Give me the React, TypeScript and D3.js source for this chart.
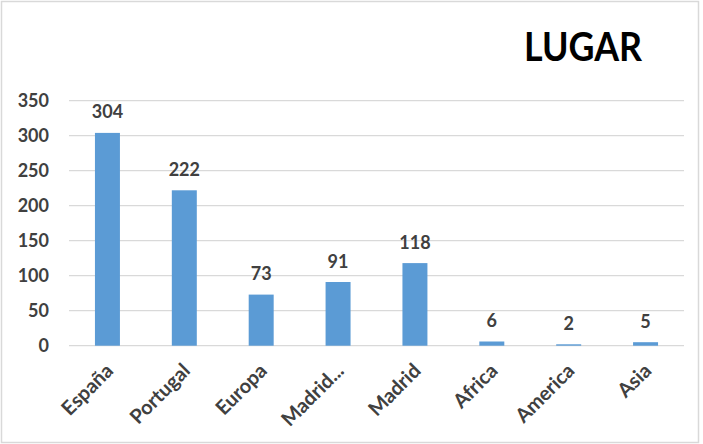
import React, { useRef, useEffect } from 'react';
import * as d3 from 'd3';

const categories = ['España', 'Portugal', 'Europa', 'Madrid...', 'Madrid', 'Africa', 'America', 'Asia'];
const values = [304, 222, 73, 91, 118, 6, 2, 5];
const yTicks = [0, 50, 100, 150, 200, 250, 300, 350];
const title = 'LUGAR';

const App: React.FC = () => {
  const svgRef = useRef<SVGSVGElement>(null);

  useEffect(() => {
    const svg = d3.select(svgRef.current);
    svg.selectAll('*').remove();

    const font = 'Lato, "Open Sans", sans-serif';
    const textColor = '#404040';
    const fontSize = 18;

    // chart border
    svg.append('rect')
      .attr('x', 1.5).attr('y', 1.5)
      .attr('width', 697).attr('height', 441)
      .attr('fill', '#fff')
      .attr('stroke', '#d9d9d9')
      .attr('stroke-width', 1.5);

    const x = d3.scaleBand()
      .domain(categories)
      .range([69, 684])
      .paddingInner(0.675)
      .paddingOuter(0.3375);

    const y = d3.scaleLinear()
      .domain([0, 350])
      .range([345.7, 100.7]);

    // gridlines
    svg.append('g')
      .selectAll('line')
      .data(yTicks)
      .join('line')
      .attr('x1', 69)
      .attr('x2', 684)
      .attr('y1', d => y(d))
      .attr('y2', d => y(d))
      .attr('stroke', '#d9d9d9')
      .attr('stroke-width', 1.3);

    // y tick labels
    svg.append('g')
      .selectAll('text')
      .data(yTicks)
      .join('text')
      .attr('x', 49)
      .attr('y', d => y(d))
      .attr('dy', '0.36em')
      .attr('text-anchor', 'end')
      .attr('font-family', font)
      .attr('font-weight', 'bold')
      .attr('font-size', fontSize)
      .attr('fill', textColor)
      .text(d => d);

    // bars
    svg.append('g')
      .selectAll('rect')
      .data(values)
      .join('rect')
      .attr('x', (d, i) => x(categories[i])!)
      .attr('y', d => y(d))
      .attr('width', x.bandwidth())
      .attr('height', d => y(0) - y(d))
      .attr('fill', '#5b9bd5');

    // data labels
    svg.append('g')
      .selectAll('text')
      .data(values)
      .join('text')
      .attr('x', (d, i) => x(categories[i])! + x.bandwidth() / 2)
      .attr('y', d => y(d) - 14.5)
      .attr('text-anchor', 'middle')
      .attr('font-family', font)
      .attr('font-weight', 'bold')
      .attr('font-size', fontSize)
      .attr('fill', textColor)
      .text(d => d);

    // category labels
    svg.append('g')
      .selectAll('text')
      .data(categories)
      .join('text')
      .attr('transform', d => `translate(${x(d)! + x.bandwidth() / 2 - 3},${362}) rotate(-45)`)
      .attr('dy', '0.71em')
      .attr('text-anchor', 'end')
      .attr('font-family', font)
      .attr('font-weight', 'bold')
      .attr('font-size', 20)
      .attr('fill', textColor)
      .text(d => d);

    // title
    svg.append('text')
      .attr('x', 583)
      .attr('y', 61)
      .attr('text-anchor', 'middle')
      .attr('font-family', font)
      .attr('font-weight', 'bold')
      .attr('font-size', 40)
      .attr('fill', '#000')
      .attr('textLength', 118)
      .attr('lengthAdjust', 'spacingAndGlyphs')
      .text(title);
  }, []);

  return (
    <svg
      ref={svgRef}
      width={703}
      height={444}
      style={{ position: 'absolute', left: 0, top: 0 }}
    />
  );
};

export default App;
